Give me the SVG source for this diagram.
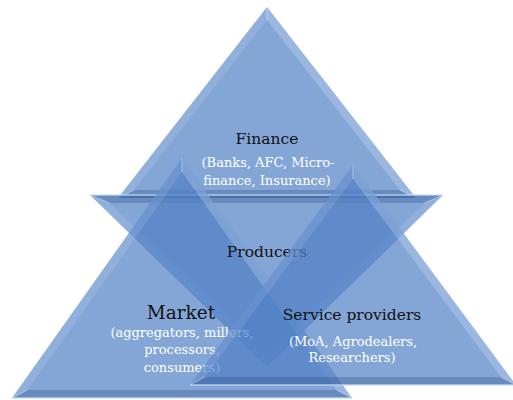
<svg xmlns="http://www.w3.org/2000/svg" width="513" height="400" viewBox="0 0 513 400">
  <defs>
    <style>
      .body { fill: rgb(80,128,198); fill-opacity: 0.7; }
      .lit { fill: #ffffff; fill-opacity: 0.2; }
      .soft { fill: #ffffff; fill-opacity: 0.1; }
      .shade { fill: #2a4a7e; fill-opacity: 0.3; }
      .rim { stroke: #c6dcf7; stroke-width: 1.5; stroke-opacity: 0.8; fill: none; }
      .ridge { stroke: #d8e8fb; stroke-width: 1; stroke-opacity: 0.5; fill: none; }
      .title { font-family: "DejaVu Serif", "Liberation Serif", serif; font-size: 15.5px; fill: #111111; text-anchor: middle; }
      .big { font-size: 18.5px; }
      .sub { font-family: "DejaVu Serif", "Liberation Serif", serif; font-size: 13px; fill: #ffffff; text-anchor: middle; }
    </style>
  </defs>

  <rect width="513" height="400" fill="#ffffff"/>

  <!-- Finance: upward triangle at the top -->
  <g id="finance">
    <polygon class="body" points="267,7 118,198 416,198"/>
    <polygon class="soft" points="267,7 118,198 134,190 267,20"/>
    <polygon class="lit" points="267,7 416,198 400,190 267,20"/>
    <polygon class="shade" points="118,198 416,198 400,190 134,190"/>
    <path class="ridge" d="M267,7 L267,20 M118,198 L134,190 M416,198 L400,190"/>
    <text class="title" x="267" y="144">Finance</text>
    <text class="sub" x="268" y="167">(Banks, AFC, Micro-</text>
    <text class="sub" x="267" y="185">finance, Insurance)</text>
  </g>

  <!-- Producers: downward triangle across the middle -->
  <g id="producers">
    <polygon class="body" points="90,195 443,195 267,367"/>
    <polygon class="soft" points="90,195 267,367 267,356 109.5,203"/>
    <polygon class="soft" points="443,195 267,367 267,356 424.5,203"/>
    <polygon class="shade" points="90,195 443,195 424.5,203 109.5,203"/>
    <path class="ridge" d="M267,367 L267,356 M90,195 L109.5,203 M443,195 L424.5,203"/>
    <line class="rim" x1="90" y1="195" x2="443" y2="195"/>
  </g>

  <!-- Market: upward triangle, lower left -->
  <g id="market">
    <polygon class="body" points="182,158 12,398 352,398"/>
    <polygon class="soft" points="182,158 12,398 27.5,390 182,172"/>
    <polygon class="lit" points="182,158 352,398 336.5,390 182,172"/>
    <polygon class="shade" points="12,398 352,398 336.5,390 27.5,390"/>
    <path class="ridge" d="M182,158 L182,172 M12,398 L27.5,390 M352,398 L336.5,390"/>
    <line class="rim" x1="12" y1="398" x2="352" y2="398"/>
    <text class="title big" x="181" y="319">Market</text>
    <text class="sub" x="182" y="337">(aggregators, millers,</text>
    <text class="sub" x="182" y="354">processors,</text>
    <text class="sub" x="182" y="372">consumers)</text>
  </g>

  <!-- Producers label sits above the Market shape, below Service providers -->
  <g id="producers-label">
    <text class="title" x="267" y="257">Producers</text>
  </g>

  <!-- Service providers: upward triangle, lower right -->
  <g id="service-providers">
    <polygon class="body" points="353,165 190,385 516,385"/>
    <polygon class="soft" points="353,165 190,385 205,377 353,179"/>
    <polygon class="lit" points="353,165 516,385 501,377 353,179"/>
    <polygon class="shade" points="190,385 516,385 501,377 205,377"/>
    <path class="ridge" d="M353,165 L353,179 M190,385 L205,377 M516,385 L501,377"/>
    <line class="rim" x1="190" y1="385" x2="516" y2="385"/>
    <text class="title" x="352" y="320">Service providers</text>
    <text class="sub" x="353" y="346">(MoA, Agrodealers,</text>
    <text class="sub" x="352" y="362">Researchers)</text>
  </g>
</svg>
